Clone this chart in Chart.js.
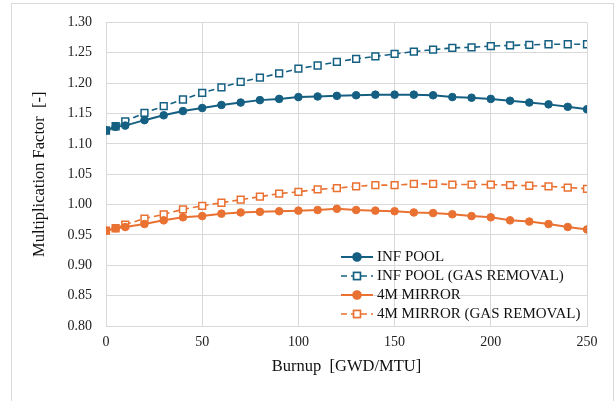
<!DOCTYPE html>
<html lang="en">
<head>
    <meta charset="UTF-8">
    <title>Multiplication Factor vs Burnup</title>
    <script src="https://cdn.jsdelivr.net/npm/chart.js"></script>
    <style>
        body { margin: 0; background: #fff; }
        .frame {
            position: absolute;
            left: 11px; top: 3px;
            width: 601px; height: 420px;
            border: 1px solid #d9d9d9;
        }
        .wrap { position: absolute; left: 0; top: 0; width: 614px; height: 401px; }
    </style>
</head>
<body>
    <div class="frame"></div>
    <div class="wrap"><canvas id="kChart" width="614" height="401"></canvas></div>

    <script>
        // burnup points [GWD/MTU]
        const burnup = [0, 5, 10, 20, 30, 40, 50, 60, 70, 80, 90, 100, 110, 120, 130,
            140, 150, 160, 170, 180, 190, 200, 210, 220, 230, 240, 250];

        const infPool = [1.122, 1.128, 1.130, 1.139, 1.147, 1.154, 1.159, 1.164, 1.168, 1.172,
            1.174, 1.177, 1.178, 1.179, 1.180, 1.181, 1.181, 1.181, 1.180, 1.177,
            1.176, 1.174, 1.171, 1.168, 1.165, 1.161, 1.157];

        const infPoolGas = [1.122, 1.129, 1.137, 1.151, 1.162, 1.173, 1.184, 1.193, 1.202, 1.209,
            1.216, 1.224, 1.229, 1.235, 1.240, 1.244, 1.248, 1.252, 1.255, 1.258,
            1.259, 1.261, 1.262, 1.263, 1.264, 1.264, 1.264];

        const mirror = [0.957, 0.961, 0.963, 0.968, 0.974, 0.979, 0.981, 0.985, 0.987, 0.988,
            0.989, 0.990, 0.991, 0.993, 0.991, 0.990, 0.989, 0.987, 0.986, 0.984,
            0.981, 0.979, 0.974, 0.972, 0.968, 0.963, 0.959];

        const mirrorGas = [0.957, 0.961, 0.967, 0.977, 0.984, 0.992, 0.998, 1.003, 1.008, 1.013,
            1.018, 1.021, 1.025, 1.027, 1.030, 1.032, 1.032, 1.034, 1.034, 1.033,
            1.033, 1.033, 1.032, 1.031, 1.030, 1.028, 1.026];

        const seriesNames = ['INF POOL', 'INF POOL (GAS REMOVAL)', '4M MIRROR', '4M MIRROR (GAS REMOVAL)'];

        const BLUE = '#156082';
        const ORANGE = '#e97132';
        const FONT = "'Liberation Serif', 'Times New Roman', serif";

        function pts(vals) {
            return vals.map((v, i) => ({ x: burnup[i], y: v }));
        }

        function solid(label, vals, color) {
            return {
                label: label, data: pts(vals),
                borderColor: color, backgroundColor: color,
                borderWidth: 2, pointStyle: 'circle', pointRadius: 3.8,
                pointBorderWidth: 1, pointBackgroundColor: color, pointBorderColor: color
            };
        }

        function dashed(label, vals, color) {
            return {
                label: label, data: pts(vals),
                borderColor: color, backgroundColor: '#fff',
                borderWidth: 1.6, borderDash: [6, 4],
                pointStyle: 'rect', pointRadius: 4.8,
                pointBorderWidth: 1.5, pointBackgroundColor: '#fff', pointBorderColor: color
            };
        }

        // legend drawn inside the plot area, Excel style (line + marker sample)
        const innerLegend = {
            id: 'innerLegend',
            afterDraw(chart) {
                const ctx = chart.ctx;
                const x0 = 341, x1 = 373, tx = 377;
                const rows = [257, 276, 295, 314];
                ctx.save();
                chart.data.datasets.forEach((ds, i) => {
                    const y = rows[i];
                    ctx.strokeStyle = ds.borderColor;
                    ctx.lineWidth = ds.borderWidth;
                    ctx.setLineDash(ds.borderDash || []);
                    ctx.beginPath();
                    ctx.moveTo(x0, y);
                    ctx.lineTo(x1, y);
                    ctx.stroke();
                    ctx.setLineDash([]);
                    Chart.helpers.drawPoint(ctx, {
                        pointStyle: ds.pointStyle,
                        radius: ds.pointRadius,
                        borderWidth: ds.pointBorderWidth
                    }, (x0 + x1) / 2, y);
                    ctx.fillStyle = ds.pointBackgroundColor;
                    ctx.strokeStyle = ds.pointBorderColor;
                    ctx.lineWidth = ds.pointBorderWidth;
                    ctx.fill();
                    ctx.stroke();
                    ctx.fillStyle = '#111';
                    ctx.font = '15px ' + FONT;
                    ctx.textBaseline = 'middle';
                    ctx.fillText(ds.label, tx, y);
                });
                ctx.restore();
            }
        };

        new Chart(document.getElementById('kChart'), {
            type: 'line',
            data: {
                datasets: [
                    solid(seriesNames[0], infPool, BLUE),
                    dashed(seriesNames[1], infPoolGas, BLUE),
                    solid(seriesNames[2], mirror, ORANGE),
                    dashed(seriesNames[3], mirrorGas, ORANGE)
                ]
            },
            options: {
                responsive: false,
                animation: false,
                layout: { padding: { top: 18, right: 27, bottom: 0, left: 0 } },
                plugins: { legend: { display: false }, tooltip: { enabled: false } },
                scales: {
                    x: {
                        type: 'linear', min: 0, max: 250,
                        afterFit(s) { s.height = 75; },
                        ticks: { stepSize: 50, padding: 8, color: '#222', font: { family: FONT, size: 14 } },
                        grid: { color: '#d9d9d9', drawTicks: false },
                        border: { color: '#d9d9d9' },
                        title: {
                            display: true, text: 'Burnup  [GWD/MTU]', color: '#111',
                            font: { family: FONT, size: 16.5 }, padding: { top: 0, bottom: 24 }
                        }
                    },
                    y: {
                        min: 0.8, max: 1.3,
                        afterFit(s) { s.width = 106; },
                        ticks: {
                            stepSize: 0.05, padding: 14, color: '#222',
                            font: { family: FONT, size: 14 },
                            callback: v => v.toFixed(2)
                        },
                        grid: { color: '#d9d9d9', drawTicks: false },
                        border: { color: '#d9d9d9' },
                        title: {
                            display: true, text: 'Multiplication Factor  [-]', color: '#111',
                            font: { family: FONT, size: 16.5 }, padding: { top: 30, bottom: 0 }
                        }
                    }
                }
            },
            plugins: [innerLegend]
        });
    </script>
</body>
</html>
